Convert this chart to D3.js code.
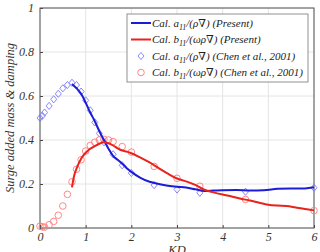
<!DOCTYPE html>
<html>
<head>
<meta charset="utf-8">
<script src="https://cdn.jsdelivr.net/npm/d3@7"></script>
<style>
  body { margin: 0; background: #fff; }
  text { font-family: "Liberation Serif", "Times New Roman", "DejaVu Serif", serif; font-style: italic; }
</style>
</head>
<body>
<div id="chart"></div>
<script>
const xTicks = [0, 1, 2, 3, 4, 5, 6];
const yTicks = [0, 0.2, 0.4, 0.6, 0.8, 1];

// Present, a11/(rho V)
const presentAKD = [0.7, 0.8, 0.9, 1.0, 1.1, 1.2, 1.3, 1.4, 1.5, 1.6, 1.7, 1.8, 1.9, 2.0, 2.2, 2.4, 2.6, 2.8, 3.0, 3.2, 3.4, 3.6, 3.8, 4.0, 4.3, 4.6, 4.9, 5.2, 5.5, 5.8, 6.0];
const presentA = [0.655, 0.635, 0.61, 0.57, 0.525, 0.485, 0.44, 0.4, 0.36, 0.328, 0.31, 0.292, 0.272, 0.255, 0.228, 0.21, 0.2, 0.192, 0.187, 0.184, 0.176, 0.168, 0.17, 0.172, 0.173, 0.171, 0.172, 0.178, 0.18, 0.18, 0.185];

// Present, b11/(omega rho V)
const presentBKD = [0.7, 0.75, 0.8, 0.9, 1.0, 1.1, 1.2, 1.3, 1.4, 1.5, 1.6, 1.7, 1.8, 1.9, 2.0, 2.2, 2.4, 2.6, 2.8, 3.0, 3.2, 3.4, 3.6, 3.8, 4.0, 4.2, 4.4, 4.6, 4.8, 5.0, 5.2, 5.4, 5.6, 5.8, 6.0];
const presentB = [0.185, 0.24, 0.27, 0.315, 0.342, 0.36, 0.372, 0.383, 0.39, 0.385, 0.375, 0.362, 0.352, 0.347, 0.34, 0.32, 0.298, 0.272, 0.247, 0.225, 0.212, 0.196, 0.174, 0.162, 0.152, 0.143, 0.133, 0.125, 0.115, 0.106, 0.102, 0.1, 0.093, 0.086, 0.08];

// Chen et al., 2001
const chenAKD = [0.0, 0.05, 0.1, 0.2, 0.3, 0.4, 0.5, 0.6, 0.7, 0.8, 0.9, 1.0, 1.1, 1.2, 1.3, 1.4, 1.6, 1.8, 2.0, 2.5, 3.0, 3.5, 4.5, 6.0];
const chenA = [0.5, 0.51, 0.525, 0.555, 0.585, 0.61, 0.635, 0.65, 0.66, 0.65, 0.62, 0.58, 0.535, 0.48, 0.43, 0.39, 0.335, 0.285, 0.25, 0.195, 0.175, 0.16, 0.165, 0.183];
const chenBKD = [0.0, 0.05, 0.1, 0.2, 0.3, 0.4, 0.5, 0.6, 0.7, 0.8, 0.9, 1.0, 1.1, 1.2, 1.3, 1.4, 1.5, 1.6, 1.8, 2.0, 2.5, 3.0, 3.5, 4.5, 6.0];
const chenB = [0.008, 0.005, 0.004, 0.015, 0.03, 0.058, 0.1, 0.153, 0.21, 0.267, 0.31, 0.35, 0.375, 0.39, 0.4, 0.403, 0.4, 0.393, 0.37, 0.345, 0.28, 0.226, 0.19, 0.13, 0.079];

const width = 320;
const height = 252;
const margin = { top: 8, right: 6, bottom: 24, left: 40 };

const blue = "#1c1cd6";
const red = "#e8231c";
const lightBlue = "#7a7aff";
const lightRed = "#ff7b7b";
const serif = "'Liberation Serif', 'Times New Roman', 'DejaVu Serif', serif";

const svg = d3.select("#chart")
  .append("svg")
  .attr("width", width)
  .attr("height", height);

const innerWidth = width - margin.left - margin.right;
const innerHeight = height - margin.top - margin.bottom;

const g = svg.append("g")
  .attr("transform", "translate(" + margin.left + "," + margin.top + ")");

const x = d3.scaleLinear().domain([0, 6]).range([0, innerWidth]);
const y = d3.scaleLinear().domain([0, 1]).range([innerHeight, 0]);

// grid
g.append("g").selectAll("line").data(xTicks).join("line")
  .attr("x1", d => x(d)).attr("x2", d => x(d))
  .attr("y1", 0).attr("y2", innerHeight)
  .attr("stroke", "#e4e4e4").attr("stroke-width", 1);
g.append("g").selectAll("line").data(yTicks).join("line")
  .attr("x1", 0).attr("x2", innerWidth)
  .attr("y1", d => y(d)).attr("y2", d => y(d))
  .attr("stroke", "#e4e4e4").attr("stroke-width", 1);

// axes (inner ticks, like the original)
const xAxis = g.append("g")
  .attr("transform", "translate(0," + innerHeight + ")")
  .call(d3.axisBottom(x).tickValues(xTicks).tickSize(-3).tickPadding(4).tickFormat(d3.format("d")));
const yAxis = g.append("g")
  .call(d3.axisLeft(y).tickValues(yTicks).tickSize(-3).tickPadding(6).tickFormat(d => d));
[xAxis, yAxis].forEach(a => {
  a.attr("font-family", serif);
  a.select(".domain").remove();
  a.selectAll("line").attr("stroke", "#444");
  a.selectAll("text")
    .attr("fill", "#333")
    .style("font-size", "12px")
    .style("font-family", serif)
    .style("font-style", "italic");
});

// box
g.append("rect")
  .attr("width", innerWidth).attr("height", innerHeight)
  .attr("fill", "none").attr("stroke", "#555").attr("stroke-width", 1);

const line = d3.line()
  .x(d => x(d[0]))
  .y(d => y(d[1]))
  .curve(d3.curveMonotoneX);

const diamond = "M0,-3.6L3,0L0,3.6L-3,0Z";

// Chen markers
g.append("g").selectAll("path")
  .data(d3.zip(chenAKD, chenA)).join("path")
  .attr("d", diamond)
  .attr("transform", d => "translate(" + x(d[0]) + "," + y(d[1]) + ")")
  .attr("fill", "none").attr("stroke", lightBlue).attr("stroke-width", 0.9);

g.append("g").selectAll("circle")
  .data(d3.zip(chenBKD, chenB)).join("circle")
  .attr("cx", d => x(d[0])).attr("cy", d => y(d[1]))
  .attr("r", 3.3)
  .attr("fill", "none").attr("stroke", lightRed).attr("stroke-width", 0.9);

// Present curves
g.append("path")
  .datum(d3.zip(presentAKD, presentA))
  .attr("fill", "none").attr("stroke", blue).attr("stroke-width", 2)
  .attr("d", line);

g.append("path")
  .datum(d3.zip(presentBKD, presentB))
  .attr("fill", "none").attr("stroke", red).attr("stroke-width", 2)
  .attr("d", line);

// axis labels
svg.append("text")
  .attr("transform", "translate(14," + (margin.top + innerHeight / 2) + ") rotate(-90)")
  .attr("text-anchor", "middle")
  .attr("fill", "#333")
  .style("font-size", "12.5px")
  .text("Surge added mass & damping");

// the original figure is cropped through this label
svg.append("text")
  .attr("x", margin.left + x(3))
  .attr("y", height + 2)
  .attr("text-anchor", "middle")
  .attr("fill", "#333")
  .style("font-size", "12.5px")
  .text("KD");

// legend
const legendItems = [
  { type: "line", color: blue, name: "a", den: "/(\u03C1\u2207)", src: " (Present)" },
  { type: "line", color: red, name: "b", den: "/(\u03C9\u03C1\u2207)", src: " (Present)" },
  { type: "diamond", color: lightBlue, name: "a", den: "/(\u03C1\u2207)", src: " (Chen et al., 2001)" },
  { type: "circle", color: lightRed, name: "b", den: "/(\u03C9\u03C1\u2207)", src: " (Chen et al., 2001)" }
];

const legend = svg.append("g").attr("transform", "translate(127,14)");
legend.append("rect")
  .attr("width", 181).attr("height", 68)
  .attr("fill", "#fff").attr("stroke", "#777").attr("stroke-width", 0.8);

legendItems.forEach((d, i) => {
  const row = legend.append("g").attr("transform", "translate(0," + (9 + i * 16.5) + ")");
  if (d.type === "line") {
    row.append("line").attr("x1", 4).attr("x2", 24).attr("y1", 0).attr("y2", 0)
      .attr("stroke", d.color).attr("stroke-width", 2);
  } else if (d.type === "diamond") {
    row.append("path").attr("d", diamond).attr("transform", "translate(14,0)")
      .attr("fill", "none").attr("stroke", d.color).attr("stroke-width", 0.9);
  } else {
    row.append("circle").attr("cx", 14).attr("cy", 0).attr("r", 3.3)
      .attr("fill", "none").attr("stroke", d.color).attr("stroke-width", 0.9);
  }
  const t = row.append("text")
    .attr("x", 25).attr("y", 3.8)
    .attr("fill", "#222")
    .style("font-size", "11px");
  t.append("tspan").text("Cal. " + d.name);
  t.append("tspan").attr("dy", 2.8).style("font-size", "8px").text("11");
  t.append("tspan").attr("dy", -2.8).text(d.den + d.src);
});
</script>
</body>
</html>
